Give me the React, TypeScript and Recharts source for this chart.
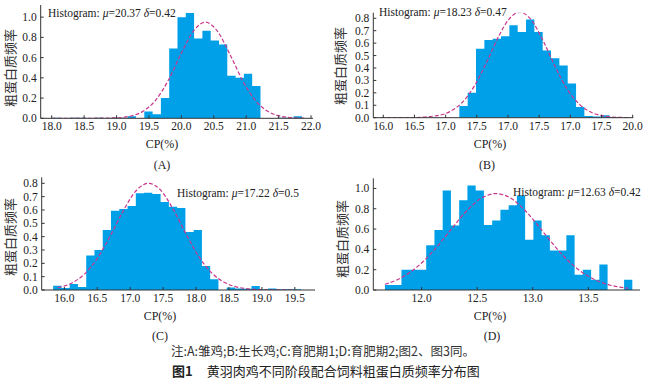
import React from 'react';
import { ComposedChart, Area, Line, XAxis, YAxis } from 'recharts';

// ---------- data ----------
// Panel A (雏鸡)
const binStartA = 18.02;
const binWidthA = 0.128;
const heightsA = [0.005, 0, 0.005, 0.005, 0, 0.005, 0, 0.005, 0.005, 0.02, 0, 0.066, 0.04, 0.2, 0.69, 1.0, 1.04, 0.79, 0.865, 0.77, 0.73, 0.42, 0.4, 0.44, 0.32, 0, 0, 0.005, 0.005, 0.02];
const curveXA = [18.0, 18.5, 19.0, 19.2, 19.4, 19.6, 19.8, 20.0, 20.2, 20.37, 20.55, 20.75, 20.95, 21.15, 21.35, 21.55, 21.75, 21.9];
const curveYA = [0, 0, 0.005, 0.02, 0.066, 0.177, 0.378, 0.645, 0.875, 0.95, 0.866, 0.631, 0.366, 0.169, 0.062, 0.018, 0.004, 0.001];
const xTicksA = [18.0, 18.5, 19.0, 19.5, 20.0, 20.5, 21.0, 21.5, 22.0];
const xLabelsA = ['18.0', '18.5', '19.0', '19.5', '20.0', '20.5', '21.0', '21.5', '22.0'];
const yTicksA = [0, 0.2, 0.4, 0.6, 0.8, 1.0];

// Panel B (生长鸡)
const binStartB = 15.883;
const binWidthB = 0.1337;
const heightsB = [0, 0, 0, 0, 0, 0, 0, 0, 0, 0, 0.095, 0.2, 0.555, 0.625, 0.635, 0.655, 0.745, 0.69, 0.79, 0.69, 0.54, 0.478, 0.42, 0.275, 0.086, 0.013, 0.01, 0.02, 0.005, 0];
const curveXB = [15.96, 16.46, 16.86, 17.06, 17.26, 17.46, 17.66, 17.86, 18.01, 18.19, 18.36, 18.56, 18.76, 18.96, 19.16, 19.36, 19.56, 19.76, 19.96];
const curveYB = [0, 0.001, 0.016, 0.047, 0.12, 0.254, 0.449, 0.664, 0.789, 0.849, 0.795, 0.623, 0.407, 0.222, 0.101, 0.038, 0.012, 0.003, 0.001];
const xTicksB = [16.0, 16.5, 17.0, 17.5, 18.0, 18.5, 19.0, 19.5, 20.0];
const xLabelsB = ['16.0', '16.5', '17.0', '17.5', '17.0', '17.5', '17.0', '17.5', '20.0'];
const yTicksB = [0, 0.1, 0.2, 0.3, 0.4, 0.5, 0.6, 0.7, 0.8];

// Panel C (育肥期1)
const binStartC = 15.83;
const binWidthC = 0.1255;
const heightsC = [0.032, 0.015, 0.045, 0.022, 0.258, 0.3, 0.45, 0.595, 0.607, 0.63, 0.725, 0.73, 0.72, 0.66, 0.625, 0.615, 0.435, 0.45, 0.18, 0.08, 0, 0.018, 0.012, 0.01, 0.03, 0.005, 0.012, 0.005, 0.005, 0.005];
const curveXC = [15.9, 16.1, 16.3, 16.5, 16.7, 16.9, 17.1, 17.28, 17.45, 17.65, 17.85, 18.05, 18.25, 18.45, 18.65, 18.85, 19.1, 19.5];
const curveYC = [0.018, 0.049, 0.117, 0.237, 0.408, 0.599, 0.75, 0.8, 0.755, 0.608, 0.418, 0.244, 0.122, 0.052, 0.019, 0.006, 0.001, 0];
const xTicksC = [16.0, 16.5, 17.0, 17.5, 18.0, 18.5, 19.0, 19.5];
const xLabelsC = ['16.0', '16.5', '17.0', '17.5', '18.0', '18.5', '19.0', '19.5'];
const yTicksC = [0, 0.1, 0.2, 0.3, 0.4, 0.5, 0.6, 0.7, 0.8];

// Panel D (育肥期2)
const binStartD = 11.67;
const binWidthD = 0.0742;
const heightsD = [0.05, 0.05, 0.2, 0.2, 0.2, 0.44, 0.59, 0.98, 0.635, 0.885, 1.03, 0.98, 0.64, 0.685, 0.79, 0.835, 0.93, 0.495, 0.685, 0.54, 0.39, 0.39, 0.54, 0.15, 0.2, 0.1, 0.25, 0, 0, 0.1];
const curveXD = [11.67, 11.8, 11.95, 12.1, 12.25, 12.4, 12.55, 12.67, 12.8, 12.95, 13.1, 13.25, 13.4, 13.55, 13.7, 13.86];
const curveYD = [0.056, 0.111, 0.219, 0.378, 0.576, 0.773, 0.912, 0.95, 0.905, 0.761, 0.563, 0.366, 0.21, 0.106, 0.047, 0.017];
const xTicksD = [12.0, 12.5, 13.0, 13.5];
const xLabelsD = ['12.0', '12.5', '13.0', '13.5'];
const yTicksD = [0, 0.2, 0.4, 0.6, 0.8, 1.0];

const BAR = '#00a0e9';
const CURVE = '#c8378c';
const AXIS = '#333';
const SERIF = '"Liberation Serif", "DejaVu Serif", serif';
const CJK = '"Noto Sans CJK SC", sans-serif';

function buildRows(start: number, width: number, heights: number[], cx: number[], cy: number[]) {
  const rows: any[] = heights.map((h, i) => ({ x: start + i * width, h }));
  rows.push({ x: start + heights.length * width, h: 0 });
  cx.forEach((x, i) => rows.push({ x, c: cy[i] }));
  rows.sort((a, b) => a.x - b.x);
  return rows;
}

const makeXTick = (ticks: number[], labels: string[]) => (props: any) => {
  const { x, y, payload } = props;
  const idx = ticks.findIndex((t) => Math.abs(t - payload.value) < 1e-6);
  const label = idx >= 0 ? labels[idx] : String(payload.value);
  return (
    <g>
      <line x1={x} x2={x} y1={y} y2={y - 3} stroke={AXIS} strokeWidth={1} />
      <text x={x} y={y + 12} textAnchor="middle" fontFamily={SERIF} fontSize={11.5} fill="#222">
        {label}
      </text>
    </g>
  );
};

const YTick = (props: any) => {
  const { x, y, payload } = props;
  return (
    <g>
      <line x1={x} x2={x + 3} y1={y} y2={y} stroke={AXIS} strokeWidth={1} />
      <text x={x - 4} y={y + 4} textAnchor="end" fontFamily={SERIF} fontSize={11.5} fill="#222">
        {Number(payload.value).toFixed(1)}
      </text>
    </g>
  );
};

type PanelProps = {
  left: number;
  top: number;
  margin: { top: number; right: number; bottom: number; left: number };
  yAxisWidth: number;
  xAxisHeight: number;
  rows: any[];
  xDomain: [number, number];
  yDomain: [number, number];
  xTicks: number[];
  xLabels: string[];
  yTicks: number[];
};

function Panel({ left, top, margin, yAxisWidth, xAxisHeight, rows, xDomain, yDomain, xTicks, xLabels, yTicks }: PanelProps) {
  return (
    <div style={{ position: 'absolute', left, top }}>
      <ComposedChart width={325} height={140} data={rows} margin={margin}>
        <XAxis
          type="number"
          dataKey="x"
          domain={xDomain}
          allowDataOverflow
          ticks={xTicks}
          interval={0}
          height={xAxisHeight}
          tickSize={0}
          tickMargin={0}
          tickLine={false}
          axisLine={{ stroke: AXIS, strokeWidth: 1 }}
          tick={makeXTick(xTicks, xLabels)}
        />
        <YAxis
          type="number"
          domain={yDomain}
          allowDataOverflow
          ticks={yTicks}
          interval={0}
          width={yAxisWidth}
          tickSize={0}
          tickMargin={0}
          tickLine={false}
          axisLine={{ stroke: AXIS, strokeWidth: 1 }}
          tick={<YTick />}
        />
        <Area
          type="stepAfter"
          dataKey="h"
          fill={BAR}
          fillOpacity={1}
          stroke="none"
          connectNulls
          isAnimationActive={false}
          dot={false}
          activeDot={false}
        />
        <Line
          type="monotone"
          dataKey="c"
          stroke={CURVE}
          strokeWidth={1.2}
          strokeDasharray="4 2"
          dot={false}
          activeDot={false}
          connectNulls
          isAnimationActive={false}
        />
      </ComposedChart>
    </div>
  );
}

const rowsA = buildRows(binStartA, binWidthA, heightsA, curveXA, curveYA);
const rowsB = buildRows(binStartB, binWidthB, heightsB, curveXB, curveYB);
const rowsC = buildRows(binStartC, binWidthC, heightsC, curveXC, curveYC);
const rowsD = buildRows(binStartD, binWidthD, heightsD, curveXD, curveYD);

function HistText({ x, y, mu, sd }: { x: number; y: number; mu: string; sd: string }) {
  return (
    <text x={x} y={y} fontFamily={SERIF} fontSize={11.5} fill="#222">
      {'Histogram: '}
      <tspan fontStyle="italic">μ</tspan>
      {'=' + mu + ' '}
      <tspan fontStyle="italic">δ</tspan>
      {'=' + sd}
    </text>
  );
}

function YLabel({ cx, cy }: { cx: number; cy: number }) {
  return (
    <text
      x={cx}
      y={cy}
      transform={`rotate(-90 ${cx} ${cy})`}
      textAnchor="middle"
      dominantBaseline="central"
      fontFamily={CJK}
      fontSize={13}
      fill="#333"
    >
      粗蛋白质频率
    </text>
  );
}

function Caption({ x, y, t }: { x: number; y: number; t: string }) {
  return (
    <text x={x} y={y} textAnchor="middle" fontFamily={SERIF} fontSize={12} fill="#222">
      {t}
    </text>
  );
}

export default function App() {
  return (
    <div style={{ position: 'absolute', left: 0, top: 0, width: 650, height: 384, background: '#fff', overflow: 'hidden' }}>
      <Panel
        left={0}
        top={0}
        margin={{ top: 5, right: 12, bottom: 5.7, left: 4.7 }}
        yAxisWidth={36}
        xAxisHeight={16}
        rows={rowsA}
        xDomain={[17.83, 22.03]}
        yDomain={[0, 1.12]}
        xTicks={xTicksA}
        xLabels={xLabelsA}
        yTicks={yTicksA}
      />
      <Panel
        left={325}
        top={0}
        margin={{ top: 12.7, right: 16.7, bottom: 6.3, left: 8.3 }}
        yAxisWidth={40}
        xAxisHeight={16}
        rows={rowsB}
        xDomain={[15.84, 20.01]}
        yDomain={[0, 0.845]}
        xTicks={xTicksB}
        xLabels={xLabelsB}
        yTicks={yTicksB}
      />
      <Panel
        left={0}
        top={170}
        margin={{ top: 7.3, right: 10, bottom: 4, left: 5.7 }}
        yAxisWidth={36}
        xAxisHeight={16}
        rows={rowsC}
        xDomain={[15.656, 19.806]}
        yDomain={[0, 0.845]}
        xTicks={xTicksC}
        xLabels={xLabelsC}
        yTicks={yTicksC}
      />
      <Panel
        left={325}
        top={170}
        margin={{ top: 8.3, right: 10, bottom: 4, left: 8.3 }}
        yAxisWidth={40}
        xAxisHeight={16}
        rows={rowsD}
        xDomain={[11.565, 13.965]}
        yDomain={[0, 1.1]}
        xTicks={xTicksD}
        xLabels={xLabelsD}
        yTicks={yTicksD}
      />
      <svg width={650} height={384} style={{ position: 'absolute', left: 0, top: 0, pointerEvents: 'none' }}>
        <HistText x={48} y={16.5} mu="20.37" sd="0.42" />
        <HistText x={379} y={16} mu="18.23" sd="0.47" />
        <HistText x={177} y={197} mu="17.22" sd="0.5" />
        <HistText x={513} y={196} mu="12.63" sd="0.42" />

        <YLabel cx={9} cy={68} />
        <YLabel cx={339} cy={66} />
        <YLabel cx={9} cy={237} />
        <YLabel cx={341} cy={239} />

        <Caption x={162} y={148} t="CP(%)" />
        <Caption x={490} y={148} t="CP(%)" />
        <Caption x={160} y={319.5} t="CP(%)" />
        <Caption x={490} y={319.5} t="CP(%)" />

        <Caption x={162} y={169} t="(A)" />
        <Caption x={487} y={169} t="(B)" />
        <Caption x={160} y={340} t="(C)" />
        <Caption x={492} y={340} t="(D)" />

        <text x={323} y={356} textAnchor="middle" fontFamily={CJK} fontSize={12.5} fill="#333">
          注:A:雏鸡;B:生长鸡;C:育肥期1;D:育肥期2;图2、图3同。
        </text>
        <text x={172} y={376} fontFamily={CJK} fontSize={13} fill="#222">
          <tspan fontWeight="bold">图1</tspan>
          <tspan dx={14}>黄羽肉鸡不同阶段配合饲料粗蛋白质频率分布图</tspan>
        </text>
      </svg>
    </div>
  );
}
